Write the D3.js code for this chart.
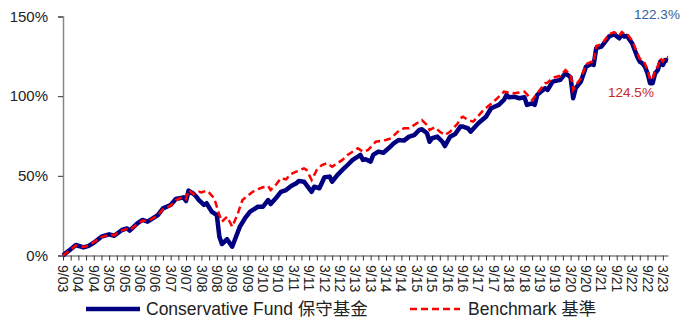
<!DOCTYPE html>
<html>
<head>
<meta charset="utf-8">
<script src="https://cdn.jsdelivr.net/npm/d3@7"></script>
<style>
  body { margin: 0; background: #fff; }
  text { font-family: "Liberation Sans", Arial, "Noto Sans CJK TC", sans-serif; }
</style>
</head>
<body>
<div id="chart"></div>
<script>
// months counted from Sep 2003 (0 = 9/03), values are cumulative return in %
const fund = [[0,0],[1,1.4],[3,4],[5,6.6],[8,5.1],[10,6.0],[12,8.0],[15,11.8],[18,13.3],[20,12.4],
  [23,16.0],[25,17.0],[26,15.6],[29,20.2],[31,22.3],[33,21.2],[37,25.4],[39,29.6],[42,31.7],[44,35.5],
  [47,36.5],[48,34.2],[49,40.7],[51,38.6],[52,37],[53,34.8],[55,31.7],[56,32.8],[58,27.5],[60,25.4],
  [61,11.8],[62,7.2],[64,10.2],[66,5.5],[67,9.7],[69,18.1],[71,23.4],[73,27.5],[76,30.6],[78,30.6],
  [80,34.8],[81,32.3],[83,35.9],[85,40],[87,41.1],[89,43.6],[91,45.3],[92,46.8],[94,46.3],[97,40],
  [98,43.2],[100,42.2],[102,49.1],[104,49.5],[105,46.3],[107,50.5],[109,53.7],[111,56.8],[113,60],[115,62],
  [116,63.1],[117,60],[118,60.4],[120,58.9],[121,63.1],[123,65.2],[125,64.5],[127,67.3],[129,70.4],[131,72.5],
  [133,72.1],[135,74.6],[137,75.6],[139,78.8],[140,79.2],[142,76.7],[143,71.4],[144,73.6],[146,74.6],[148,71.4],
  [149,68.7],[151,74.6],[153,76.3],[155,80.9],[156,80.9],[158,79.8],[159,77.7],[162,83],[165,87.1],[167,92.4],
  [170,94.5],[172,97.6],[173,100.8],[174,99.3],[176,99.7],[178,98.7],[180,99.3],[181,94.5],[183,95.5],[184,94.5],
  [185,100.8],[188,105],[189,103.9],[191,109.1],[194,110.2],[196,114.4],[198,111.9],[199,98.7],[200,105],[202,109.1],
  [204,118.5],[206,120.2],[207,119.6],[208,130.1],[210,131.1],[211,133.2],[213,137.4],[215,138.9],[217,136.3],[218,139],
  [219,137.4],[220,137.8],[222,133.2],[223,129],[224,124.8],[225,121.7],[226,120.6],[227,118.5],[228,114.4],[229,108.1],
  [230,108.1],[231,114.4],[232,116.4],[233,121.7],[234,119.6],[235,122.7],[236,122.3]];

const benchmark = [[0,0],[1,1.2],[3,3.8],[5,6.4],[8,5.3],[10,6.2],[12,8.3],[15,11.5],[18,13.0],[20,12.8],
  [23,15.8],[25,16.6],[26,15.9],[29,19.8],[31,21.9],[33,21.5],[37,25.2],[39,29.0],[42,31.3],[44,34.8],
  [47,36.8],[48,35.5],[49,41.0],[51,38.4],[53,40.0],[54,39.6],[56,40.7],[57,39.5],[59,35.9],[61,25.4],
  [62,21.2],[64,24.4],[66,18.1],[68,25.4],[70,34.8],[74,40.0],[76,41.6],[78,42.8],[80,43.6],[81,41.1],
  [83,44.3],[85,48.5],[87,47.8],[89,51.2],[91,52.6],[94,54.7],[95,53.7],[97,47.4],[99,53.7],[101,56.8],
  [103,57.9],[105,55.7],[109,60.0],[111,63.1],[115,67.3],[117,65.2],[119,66.2],[122,71.4],[126,72.5],[128,73.6],
  [131,78.3],[133,79.8],[135,79.8],[139,84.0],[140,85.0],[142,81.9],[143,78.8],[145,80.5],[147,77.7],[149,75.6],
  [151,77.7],[154,83.0],[155,86.1],[156,87.1],[158,85.0],[160,84.0],[164,91.3],[168,96.5],[172,102.8],[176,101.8],
  [180,102.8],[183,97.6],[185,101.8],[188,108.0],[189,108.5],[191,111.5],[194,112.8],[196,116.4],[198,113.5],[199,104],
  [200,107],[202,111],[204,120],[206,121.5],[207,121],[208,131.5],[210,132.5],[211,134.5],[213,138.8],[215,140.2],
  [217,138],[218,140.3],[219,139],[220,139.2],[222,135],[223,131],[224,127],[225,123.5],[226,122.8],[227,120.5],
  [228,116.5],[229,110.5],[230,110.5],[231,116.5],[232,118.5],[233,123.8],[234,121.8],[235,124.9],[236,124.5]];

const xTickLabels = ['9/03','3/04','9/04','3/05','9/05','3/06','9/06','3/07','9/07','3/08',
  '9/08','3/09','9/09','3/10','9/10','3/11','9/11','3/12','9/12','3/13',
  '9/13','3/14','9/14','3/15','9/15','3/16','9/16','3/17','9/17','3/18',
  '9/18','3/19','9/19','3/20','9/20','3/21','9/21','3/22','9/22','3/23'];
const yTicks = [0, 50, 100, 150];
const seriesNames = ['Conservative Fund 保守基金', 'Benchmark 基準'];
const endLabels = ['122.3%', '124.5%'];

const width = 683, height = 318;

const svg = d3.select('#chart')
  .append('svg')
  .attr('width', width)
  .attr('height', height);

const x = d3.scaleLinear().domain([0, 236]).range([63, 668]);
const y = d3.scaleLinear().domain([0, 150]).range([255.5, 16.5]);

// y axis
const yAxis = svg.append('g')
  .attr('transform', 'translate(63,0)')
  .call(d3.axisLeft(y).tickValues(yTicks).tickSize(5).tickPadding(10).tickFormat(d => d + '%'));
yAxis.select('.domain').attr('stroke', '#868686').attr('stroke-width', 1.5);
yAxis.selectAll('.tick line').attr('stroke', '#333');
yAxis.selectAll('text').attr('font-size', 15).attr('fill', '#222')
  .attr('font-family', '"Liberation Sans", Arial, sans-serif');

// x axis: quarterly ticks, half-year labels
const xAxis = svg.append('g')
  .attr('transform', 'translate(0,255.5)')
  .call(d3.axisBottom(x).tickValues(d3.range(0, 237, 3)).tickSize(5).tickSizeOuter(0).tickFormat(''));
xAxis.select('.domain').attr('stroke', '#868686').attr('stroke-width', 1.5);
xAxis.selectAll('.tick line').attr('stroke', '#333');

svg.append('g')
  .selectAll('text')
  .data(xTickLabels)
  .enter()
  .append('text')
  .attr('transform', (d, i) => 'translate(' + x(i * 6) + ',265)rotate(90)')
  .attr('dy', '0.35em')
  .attr('font-size', 14)
  .attr('fill', '#222')
  .text(d => d);

const line = d3.line()
  .x(d => x(d[0]))
  .y(d => y(d[1]));

svg.append('path')
  .datum(fund)
  .attr('fill', 'none')
  .attr('stroke', '#000080')
  .attr('stroke-width', 4.5)
  .attr('stroke-linejoin', 'round')
  .attr('d', line);

svg.append('path')
  .datum(benchmark)
  .attr('fill', 'none')
  .attr('stroke', '#ff0000')
  .attr('stroke-width', 2.5)
  .attr('stroke-dasharray', '7,4')
  .attr('d', line);

// end value labels
svg.append('text')
  .attr('x', 657).attr('y', 18.5)
  .attr('text-anchor', 'middle')
  .attr('font-size', 13.5)
  .attr('fill', '#34609a')
  .text(endLabels[0]);
svg.append('text')
  .attr('x', 631).attr('y', 97)
  .attr('text-anchor', 'middle')
  .attr('font-size', 13.5)
  .attr('fill', '#c62828')
  .text(endLabels[1]);

// legend
const legend = svg.append('g');
legend.append('line')
  .attr('x1', 86).attr('x2', 140).attr('y1', 309).attr('y2', 309)
  .attr('stroke', '#000080').attr('stroke-width', 4.5);
legend.append('text')
  .attr('x', 146).attr('y', 314.5)
  .attr('font-size', 17.5).attr('fill', '#222')
  .text(seriesNames[0]);
legend.append('line')
  .attr('x1', 410).attr('x2', 460).attr('y1', 309).attr('y2', 309)
  .attr('stroke', '#ff0000').attr('stroke-width', 2.5).attr('stroke-dasharray', '7,4');
legend.append('text')
  .attr('x', 468).attr('y', 314.5)
  .attr('font-size', 17.5).attr('fill', '#222')
  .text(seriesNames[1]);
</script>
</body>
</html>
